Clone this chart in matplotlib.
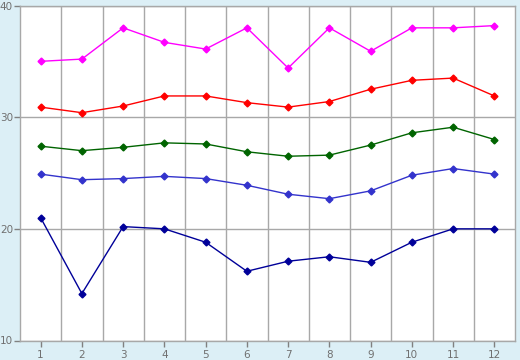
import matplotlib
matplotlib.use("Agg")
import matplotlib.pyplot as plt
from matplotlib.ticker import FixedLocator

x = [1, 2, 3, 4, 5, 6, 7, 8, 9, 10, 11, 12]
s_magenta = [35.0, 35.2, 38.0, 36.7, 36.1, 38.0, 34.4, 38.0, 35.9, 38.0, 38.0, 38.2]
s_red = [30.9, 30.4, 31.0, 31.9, 31.9, 31.3, 30.9, 31.4, 32.5, 33.3, 33.5, 31.9]
s_green = [27.4, 27.0, 27.3, 27.7, 27.6, 26.9, 26.5, 26.6, 27.5, 28.6, 29.1, 28.0]
s_blue = [24.9, 24.4, 24.5, 24.7, 24.5, 23.9, 23.1, 22.7, 23.4, 24.8, 25.4, 24.9]
s_navy = [21.0, 14.2, 20.2, 20.0, 18.8, 16.2, 17.1, 17.5, 17.0, 18.8, 20.0, 20.0]
yticks = [10, 20, 30, 40]

series = [(s_magenta, "#FF00FF"), (s_red, "#FF0000"), (s_green, "#006400"),
          (s_blue, "#3333CC"), (s_navy, "#000099")]

bg = "#DCEFF6"
gc = "#A8A8A8"
fig = plt.figure(figsize=(5.2, 3.6), dpi=100, facecolor=bg)
ax = fig.add_axes([20/520, 1-340.5/360, 495/520, 335/360])
ax.set_facecolor("white")

for vals, c in series:
    ax.plot(x, vals, color=c, lw=1.0, marker="D", ms=3.5, mec=c, mfc=c, zorder=3)

ax.set_xlim(0.5, 12.5)
ax.set_ylim(10, 40)
ax.set_xticks(x)
ax.set_yticks(yticks)
ax.xaxis.set_minor_locator(FixedLocator([i + 0.5 for i in range(1, 12)]))
ax.grid(True, which="minor", axis="x", color=gc, lw=1.0)
ax.grid(True, which="major", axis="y", color=gc, lw=1.0)
ax.tick_params(axis="x", which="minor", length=0)
ax.tick_params(axis="both", which="major", length=4, width=1, color="#808080",
               labelcolor="#707070", labelsize=7.5, pad=3)
ax.tick_params(axis="y", pad=1)
for sp in ax.spines.values():
    sp.set_color(gc)
    sp.set_linewidth(1.0)

fig.savefig("out.png", dpi=100, facecolor=bg)
